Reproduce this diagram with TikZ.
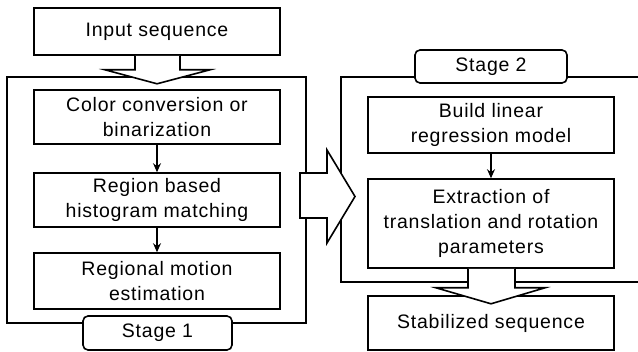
\documentclass[tikz,border=0pt]{standalone}
\usepackage{fontspec}
\setmainfont[LetterSpace=4]{Liberation Sans}
\usetikzlibrary{arrows.meta,calc}
\begin{document}
\begin{tikzpicture}[x=1pt,y=-1pt,
  box/.style={draw,line width=1.6pt,fill=white,minimum width=246pt,align=center,
    font=\fontsize{19.5}{25}\selectfont,inner sep=0pt},
  stagebox/.style={draw,line width=1.6pt,fill=white,rounded corners=5pt,align=center,
    font=\fontsize{19.5}{25}\selectfont,inner sep=0pt},
  frame/.style={draw,line width=1.6pt},
  hollow/.style={draw,line width=1.6pt,fill=white,line join=miter},
  link/.style={draw,line width=1.3pt,-{Stealth[length=9pt,width=8pt]}}]
\useasboundingbox (0,0) rectangle (638,352);
% containers
\draw[frame] (7,77) rectangle (306,323);
\draw[frame] (638,77) -| (341,282) -- (638,282);
% stage 1 boxes
\node[box,minimum height=47pt] (in) at (157,31.5) {Input sequence};
\node[box,minimum height=54pt] (cc) at (157,117) {Color conversion or\\binarization};
\node[box,minimum height=54pt] (rh) at (157,200) {Region based\\histogram matching};
\node[box,minimum height=56pt] (rm) at (157,281) {Regional motion\\estimation};
\node[stagebox,minimum width=149pt,minimum height=34pt] (s1) at (157.5,333) {Stage 1};
% stage 2 boxes
\node[stagebox,minimum width=152pt,minimum height=33pt] (s2) at (491,66.5) {Stage 2};
\node[box,minimum height=56pt] (bl) at (491,125) {Build linear\\regression model};
\node[box,minimum height=89pt] (ex) at (491,223.5) {Extraction of\\translation and rotation\\parameters};
\node[box,minimum height=54pt] (st) at (491,323) {Stabilized sequence};
% links
\draw[link] (cc.south) -- (rh.north);
\draw[link] (rh.south) -- (rm.north);
\draw[link] (bl.south) -- (ex.north);
% hollow arrows
\draw[hollow] ($(in.south)+(-22,0)$) -- ++(0,14) -- ++(-30,0) -- ($(in.south)+(0,28)$)
  -- ($(in.south)+(53,14)$) -- ++(-30,0) -- ($(in.south)+(23,0)$);
\draw[hollow] (300,173) -- (327,173) -- (327,150) -- (355,196.5) -- (327,243)
  -- (327,218) -- (300,218) -- cycle;
\draw[hollow] ($(ex.south)+(-23,0)$) -- ++(0,19) -- ++(-32,0) -- ($(ex.south)+(0,35)$)
  -- ($(ex.south)+(54,19)$) -- ++(-30,0) -- ($(ex.south)+(24,0)$);
\end{tikzpicture}
\end{document}
